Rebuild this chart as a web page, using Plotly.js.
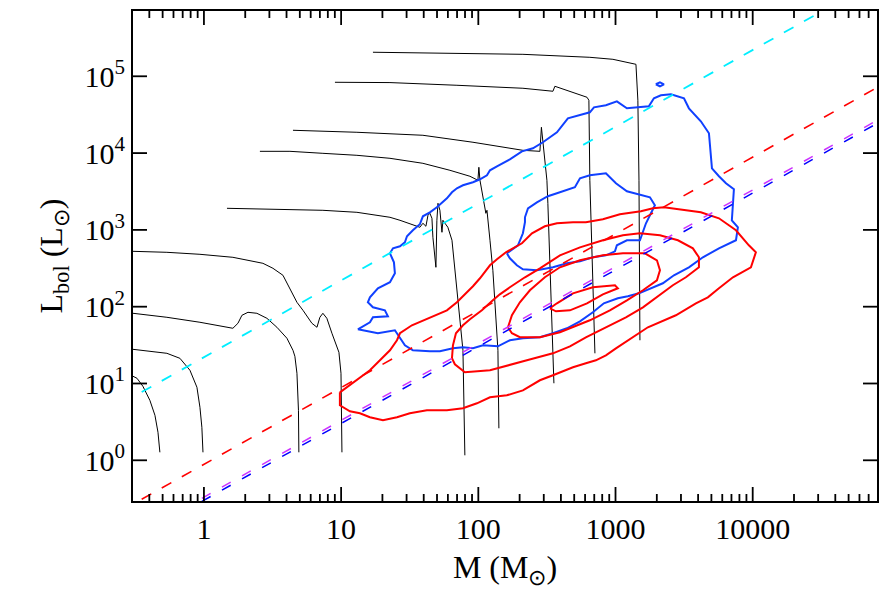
<!DOCTYPE html>
<html>
<head>
<meta charset="utf-8">
<script src="https://cdn.plot.ly/plotly-3.0.1.min.js"></script>
<style>html,body{margin:0;padding:0;background:#fff}</style>
</head>
<body>
<div id="chart" style="width:886px;height:590px"></div>
<script>
// Every curve is a list of [log10 M, log10 L] pairs (M in Msun, L in Lsun).

// Evolutionary tracks (black)
const trackA = [[-0.517,1.094],[-0.488,1.068],[-0.445,0.964],[-0.394,0.781],[-0.357,0.586],[-0.335,0.365],[-0.321,0.104]];
const trackB = [[-0.517,1.445],[-0.394,1.419],[-0.270,1.393],[-0.175,1.328],[-0.102,1.172],[-0.051,0.951],[-0.029,0.690],[-0.015,0.430],[-0.007,0.104]];
const trackC = [[-0.517,1.914],[-0.270,1.862],[-0.029,1.797],[0.211,1.719],[0.248,1.784],[0.277,1.888],[0.321,1.927],[0.386,1.914],[0.459,1.849],[0.532,1.732],[0.605,1.589],[0.649,1.432],[0.663,1.354],[0.678,1.133],[0.689,0.651],[0.692,0.104]];
const trackD = [[-0.517,2.721],[-0.270,2.708],[-0.029,2.682],[0.211,2.643],[0.430,2.565],[0.503,2.500],[0.576,2.409],[0.627,2.240],[0.678,2.057],[0.722,1.953],[0.787,1.784],[0.824,1.732],[0.845,1.862],[0.867,1.914],[0.896,1.849],[0.933,1.654],[0.969,1.471],[0.984,1.406],[0.999,1.133],[1.006,0.104]];
const trackE = [[0.168,3.281],[0.627,3.268],[0.867,3.255],[1.115,3.229],[1.356,3.164],[1.429,3.125],[1.552,3.047],[1.574,3.034],[1.596,3.086],[1.618,3.047],[1.633,3.190],[1.647,3.216],[1.662,3.151],[1.669,2.904],[1.691,2.513],[1.698,3.125],[1.706,3.346],[1.720,3.255],[1.735,2.969],[1.742,3.125],[1.757,3.086],[1.778,3.034],[1.808,2.865],[1.829,2.474],[1.851,2.083],[1.873,1.693],[1.888,1.432],[1.902,0.065]];
const trackF = [[0.408,4.023],[0.627,4.023],[0.867,3.997],[1.115,3.971],[1.356,3.932],[1.596,3.867],[1.793,3.776],[1.939,3.698],[1.997,3.646],[2.004,3.815],[2.012,3.646],[2.034,3.424],[2.055,3.216],[2.063,3.255],[2.070,3.151],[2.085,2.865],[2.106,2.474],[2.121,2.083],[2.136,1.693],[2.143,1.432],[2.150,0.417]];
const trackG = [[0.649,4.297],[1.115,4.271],[1.596,4.232],[1.961,4.141],[2.325,4.036],[2.449,4.023],[2.460,4.336],[2.471,4.167],[2.485,3.906],[2.500,3.646],[2.507,3.346],[2.522,2.474],[2.544,1.432],[2.551,1.003]];
const trackH = [[0.955,4.922],[1.356,4.918],[1.844,4.883],[2.325,4.844],[2.544,4.805],[2.558,4.870],[2.792,4.727],[2.806,4.688],[2.813,3.646],[2.828,2.604],[2.843,1.563],[2.850,1.393]];
const trackI = [[1.232,5.313],[1.844,5.299],[2.325,5.286],[2.813,5.247],[2.981,5.221],[3.149,5.156],[3.163,4.688],[3.171,3.646],[3.178,1.563]];
const tracks = [trackA, trackB, trackC, trackD, trackE, trackF, trackG, trackH, trackI];

// Blue contours
const blueOuter = [[1.122,1.706],[1.210,1.797],[1.232,1.862],[1.341,1.875],[1.319,1.953],[1.232,1.992],[1.195,2.057],[1.210,2.122],[1.268,2.240],[1.356,2.318],[1.392,2.435],[1.385,2.578],[1.356,2.695],[1.378,2.760],[1.429,2.786],[1.465,2.839],[1.480,2.917],[1.523,2.995],[1.574,3.073],[1.596,3.177],[1.647,3.229],[1.698,3.294],[1.771,3.411],[1.808,3.490],[1.844,3.542],[1.888,3.581],[1.961,3.620],[2.012,3.659],[2.063,3.711],[2.085,3.776],[2.136,3.828],[2.230,3.919],[2.318,4.023],[2.398,4.063],[2.471,4.141],[2.573,4.271],[2.653,4.453],[2.813,4.531],[2.843,4.596],[2.930,4.622],[3.010,4.674],[3.083,4.583],[3.163,4.596],[3.243,4.609],[3.280,4.714],[3.331,4.753],[3.404,4.766],[3.499,4.714],[3.535,4.583],[3.622,4.414],[3.681,4.258],[3.688,4.076],[3.703,3.802],[3.754,3.698],[3.805,3.607],[3.863,3.529],[3.856,3.346],[3.848,3.125],[3.892,3.034],[3.878,2.865],[3.754,2.760],[3.637,2.643],[3.535,2.513],[3.426,2.409],[3.345,2.305],[3.280,2.253],[3.171,2.174],[3.090,2.135],[3.017,2.109],[2.915,2.044],[2.835,1.927],[2.741,1.810],[2.646,1.719],[2.544,1.654],[2.449,1.602],[2.325,1.589],[2.230,1.563],[2.143,1.484],[2.034,1.497],[1.961,1.458],[1.888,1.471],[1.815,1.458],[1.720,1.419],[1.647,1.419],[1.523,1.432],[1.465,1.497],[1.429,1.589],[1.392,1.693],[1.268,1.654],[1.122,1.706]];
const blueInner = [[2.208,2.695],[2.230,2.630],[2.281,2.539],[2.325,2.487],[2.427,2.474],[2.544,2.513],[2.646,2.565],[2.741,2.591],[2.835,2.643],[2.930,2.669],[2.996,2.721],[3.010,2.799],[3.083,2.865],[3.178,2.865],[3.222,3.086],[3.258,3.216],[3.287,3.320],[3.251,3.425],[3.083,3.503],[3.003,3.607],[2.966,3.672],[2.930,3.737],[2.813,3.711],[2.741,3.672],[2.704,3.555],[2.646,3.516],[2.573,3.477],[2.507,3.438],[2.427,3.359],[2.362,3.281],[2.340,3.164],[2.340,3.099],[2.325,2.956],[2.289,2.799],[2.208,2.695]];
const blueIsland = [[3.294,4.896],[3.324,4.922],[3.353,4.896],[3.324,4.870],[3.294,4.896]];

// Red contours
const redOuter = [[0.991,0.885],[1.108,1.042],[1.210,1.172],[1.283,1.302],[1.356,1.432],[1.407,1.563],[1.429,1.654],[1.516,1.758],[1.647,1.862],[1.771,1.953],[1.844,2.057],[1.910,2.174],[1.961,2.266],[2.012,2.370],[2.085,2.539],[2.136,2.617],[2.201,2.708],[2.318,2.826],[2.391,2.956],[2.485,3.047],[2.573,3.086],[2.690,3.099],[2.784,3.099],[2.908,3.138],[3.032,3.203],[3.185,3.242],[3.273,3.281],[3.353,3.294],[3.513,3.255],[3.622,3.229],[3.754,3.151],[3.878,2.995],[3.972,2.799],[4.023,2.708],[3.987,2.513],[3.856,2.383],[3.754,2.240],[3.673,2.122],[3.586,2.044],[3.440,1.888],[3.236,1.732],[3.098,1.576],[3.003,1.458],[2.930,1.367],[2.857,1.302],[2.784,1.263],[2.690,1.211],[2.544,1.107],[2.449,1.042],[2.325,0.911],[2.208,0.846],[2.085,0.820],[1.990,0.742],[1.888,0.677],[1.771,0.651],[1.625,0.651],[1.501,0.612],[1.407,0.560],[1.305,0.521],[1.210,0.560],[1.137,0.612],[1.064,0.638],[0.991,0.716],[0.991,0.885]];
const redMiddle = [[1.808,1.328],[1.815,1.497],[1.837,1.654],[1.888,1.758],[1.939,1.836],[2.026,1.953],[2.106,2.083],[2.157,2.161],[2.230,2.253],[2.340,2.383],[2.449,2.500],[2.595,2.669],[2.741,2.773],[2.908,2.865],[3.054,2.930],[3.178,2.956],[3.324,2.930],[3.455,2.865],[3.564,2.760],[3.608,2.643],[3.608,2.513],[3.513,2.383],[3.418,2.279],[3.294,2.122],[3.200,1.992],[3.076,1.862],[2.930,1.732],[2.784,1.602],[2.668,1.484],[2.544,1.393],[2.354,1.302],[2.157,1.211],[2.085,1.172],[1.902,1.146],[1.829,1.250],[1.808,1.328]];
const redInner = [[2.216,1.732],[2.245,1.888],[2.303,2.057],[2.376,2.214],[2.485,2.383],[2.595,2.513],[2.741,2.604],[2.908,2.669],[3.054,2.695],[3.214,2.695],[3.302,2.604],[3.324,2.474],[3.302,2.344],[3.200,2.214],[3.083,2.083],[2.959,1.953],[2.813,1.823],[2.668,1.719],[2.595,1.667],[2.449,1.602],[2.303,1.602],[2.245,1.654],[2.216,1.732]];
const redCore = [[2.522,1.979],[2.573,2.044],[2.690,2.174],[2.835,2.253],[2.996,2.279],[3.017,2.240],[2.908,2.161],[2.792,2.044],[2.668,1.953],[2.566,1.940],[2.522,1.979]];

// Constant L/M reference lines, as end points
const cyanLine   = [[-0.6, 0.742],[5.0, 6.342]];
const redLine    = [[-0.6,-0.653],[5.0, 4.947]];
const purpleLine = [[-0.6,-1.080],[5.0, 4.520]];
const blueLine   = [[-0.6,-1.120],[5.0, 4.480]];

// Axis ticks
const xTickVals = [1, 10, 100, 1000, 10000];
const xTickText = ['1', '10', '100', '1000', '10000'];
const xMinorVals = [0.4, 0.5, 0.6, 0.7, 0.8, 0.9,
  2, 3, 4, 5, 6, 7, 8, 9,
  20, 30, 40, 50, 60, 70, 80, 90,
  200, 300, 400, 500, 600, 700, 800, 900,
  2000, 3000, 4000, 5000, 6000, 7000, 8000, 9000,
  20000, 30000, 40000, 50000, 60000, 70000];
const yTickVals = [1, 10, 100, 1000, 10000, 100000];
const yTickText = ['10<sup>0</sup>', '10<sup>1</sup>', '10<sup>2</sup>', '10<sup>3</sup>', '10<sup>4</sup>', '10<sup>5</sup>'];

// Axis ranges (log10) and plot frame size in px
const xRange = [-0.517, 4.906];
const yRange = [-0.53, 5.85];
const frameW = 886 - 133 - 9;
const frameH = 590 - 11 - 89;
const majorLen = 14, minorLen = 7;

function curve(pts, color, width, dash) {
  return {
    x: pts.map(p => Math.pow(10, p[0])),
    y: pts.map(p => Math.pow(10, p[1])),
    type: 'scatter', mode: 'lines',
    line: {color: color, width: width, dash: dash || 'solid'},
    hoverinfo: 'skip', showlegend: false
  };
}

const data = [];
tracks.forEach(t => data.push(curve(t, '#000000', 1)));
[blueOuter, blueInner, blueIsland].forEach(c => data.push(curve(c, '#1040ff', 2)));
[redOuter, redMiddle, redInner, redCore].forEach(c => data.push(curve(c, '#ff0000', 2)));
data.push(curve(cyanLine, '#00eeff', 1.8, '11px,12px'));
data.push(curve(redLine, '#ff0000', 1.6, '11px,12px'));
data.push(curve(purpleLine, '#cc33ff', 1.5, '10px,13px'));
data.push(curve(blueLine, '#0000ff', 1.5, '10px,13px'));

// Inward tick marks on all four sides, drawn as one segmented line trace
const dexPerPxX = (xRange[1] - xRange[0]) / frameW;
const dexPerPxY = (yRange[1] - yRange[0]) / frameH;
const tickX = [], tickY = [];
function xTick(v, len) {
  const d = len * dexPerPxY;
  tickX.push(v, v, null, v, v, null);
  tickY.push(Math.pow(10, yRange[0]), Math.pow(10, yRange[0] + d), null,
             Math.pow(10, yRange[1]), Math.pow(10, yRange[1] - d), null);
}
function yTick(v, len) {
  const d = len * dexPerPxX;
  tickX.push(Math.pow(10, xRange[0]), Math.pow(10, xRange[0] + d), null,
             Math.pow(10, xRange[1]), Math.pow(10, xRange[1] - d), null);
  tickY.push(v, v, null, v, v, null);
}
xTickVals.forEach(v => xTick(v, majorLen));
xMinorVals.forEach(v => xTick(v, minorLen));
yTickVals.forEach(v => yTick(v, majorLen));
data.push({
  x: tickX, y: tickY, type: 'scatter', mode: 'lines',
  line: {color: '#000000', width: 1.8}, connectgaps: false,
  hoverinfo: 'skip', showlegend: false
});

const serif = 'Liberation Serif, Times New Roman, serif';

const layout = {
  width: 886, height: 590,
  margin: {l: 133, r: 9, t: 11, b: 89},
  xaxis: {
    type: 'log', range: xRange,
    showline: true, linecolor: 'black', linewidth: 2, mirror: true,
    ticks: '', tickmode: 'array', tickvals: xTickVals, ticktext: xTickText,
    showgrid: false, zeroline: false,
    tickfont: {family: serif, size: 30, color: 'black'},
    title: {text: 'M (M<sub>⊙</sub>)', font: {family: serif, size: 32, color: 'black'}, standoff: 12}
  },
  yaxis: {
    type: 'log', range: yRange,
    showline: true, linecolor: 'black', linewidth: 2, mirror: true,
    ticks: '', tickmode: 'array', tickvals: yTickVals, ticktext: yTickText,
    showgrid: false, zeroline: false,
    tickfont: {family: serif, size: 30, color: 'black'},
    title: {text: 'L<sub>bol</sub> (L<sub>⊙</sub>)', font: {family: serif, size: 32, color: 'black'}, standoff: 12}
  }
};

Plotly.newPlot('chart', data, layout, {displayModeBar: false});
</script>
</body>
</html>
